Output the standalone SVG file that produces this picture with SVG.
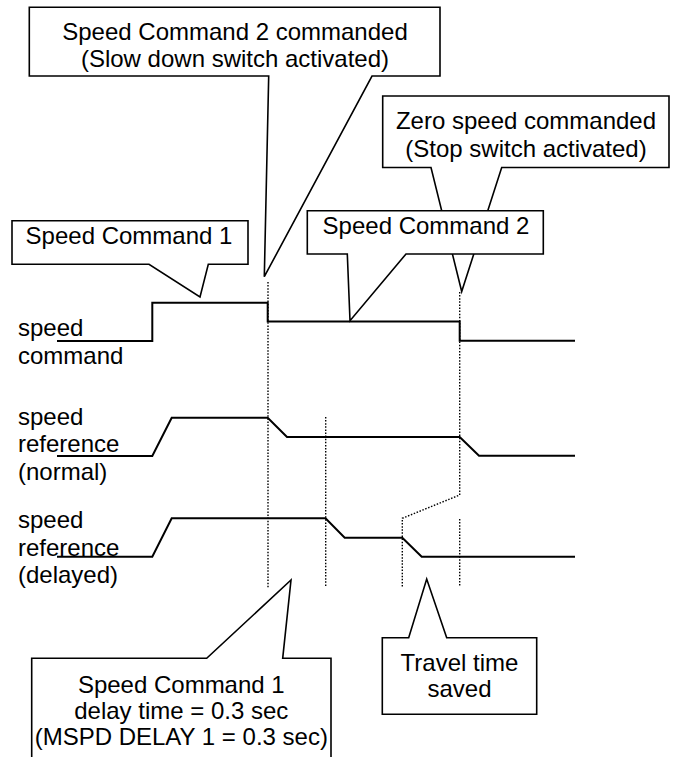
<svg xmlns="http://www.w3.org/2000/svg" width="674" height="757" viewBox="0 0 674 757">
  <style>
    text { font-family: "Liberation Sans", Arial, sans-serif; font-size: 24px; fill: #000; }
    .mid { text-anchor: middle; }
    .trace { fill: none; stroke: #000; stroke-width: 2; stroke-linejoin: miter; }
    .dot { fill: none; stroke: #000; stroke-width: 1.4; stroke-dasharray: 1.5 1.6; }
    .call { fill: #fff; stroke: #000; stroke-width: 1.6; stroke-linejoin: miter; }
  </style>

  <rect width="674" height="757" fill="#fff"/>

  <!-- signal names -->
  <g id="label-command">
    <text x="18" y="336">speed</text>
    <text x="18" y="363.5">command</text>
  </g>
  <g id="label-normal">
    <text x="18" y="424.5">speed</text>
    <text x="18" y="452">reference</text>
    <text x="18" y="479.5">(normal)</text>
  </g>
  <g id="label-delayed">
    <text x="18" y="528">speed</text>
    <text x="18" y="555.5">reference</text>
    <text x="18" y="583">(delayed)</text>
  </g>

  <!-- waveforms and timing markers -->
  <g id="connectors">
    <path class="trace" d="M57,341 H152.3 V302.7 H267.7 V321.5 H459.7 V340.7 H575"/>
    <path class="trace" d="M57,456 H152.3 L171.7,417.7 H267.7 L287,437 H459.7 L479,455.7 H575"/>
    <path class="trace" d="M57,556.7 H152.3 L171.7,518.3 H325.5 L344.7,537.7 H402.3 L421.7,556.7 H575"/>

    <path class="dot" d="M268,282 V588"/>
    <path class="dot" d="M325.7,417 V587"/>
    <path class="dot" d="M459.7,292 V495 L402.3,518.3 V587"/>
    <path class="dot" d="M459.7,519 V587"/>
  </g>

  <!-- callouts -->
  <g id="callout-slowdown">
    <path class="call" d="M29.3,7.3 H440 V76 H372 L264.3,276.7 L268.7,76 H29.3 Z"/>
    <text class="mid" x="235" y="40">Speed Command 2 commanded</text>
    <text class="mid" x="235" y="66.5">(Slow down switch activated)</text>
  </g>

  <g id="callout-cmd1">
    <path class="call" d="M12,220.7 H248 V264.3 H208.3 L200,297 L149,264.3 H12 Z"/>
    <text class="mid" x="129" y="244">Speed Command 1</text>
  </g>

  <g id="callout-zero">
    <path class="call" d="M382.7,96 H669 V167.5 H501.7 L461.7,291.5 L431,167.5 H382.7 Z"/>
    <text class="mid" x="526" y="129.3">Zero speed commanded</text>
    <text class="mid" x="526" y="156.7">(Stop switch activated)</text>
  </g>

  <g id="callout-cmd2">
    <path class="call" d="M307.3,210.7 H543.3 V254 H406 L350,320.7 L347.3,254 H307.3 Z"/>
    <text class="mid" x="426" y="234.3">Speed Command 2</text>
  </g>

  <g id="callout-delay">
    <path class="call" d="M31.7,760 V658.3 H206.7 L291,580 L282.7,658.3 H331 V760"/>
    <text class="mid" x="181.3" y="693.3">Speed Command 1</text>
    <text class="mid" x="181.3" y="719.3">delay time = 0.3 sec</text>
    <text class="mid" x="181.3" y="745">(MSPD DELAY 1 = 0.3 sec)</text>
  </g>

  <g id="callout-saved">
    <path class="call" d="M382.3,637.7 H408.7 L426.7,579 L446.7,637.7 H536.7 V714.3 H382.3 Z"/>
    <text class="mid" x="459.5" y="670.7">Travel time</text>
    <text class="mid" x="459.5" y="697.3">saved</text>
  </g>
</svg>
